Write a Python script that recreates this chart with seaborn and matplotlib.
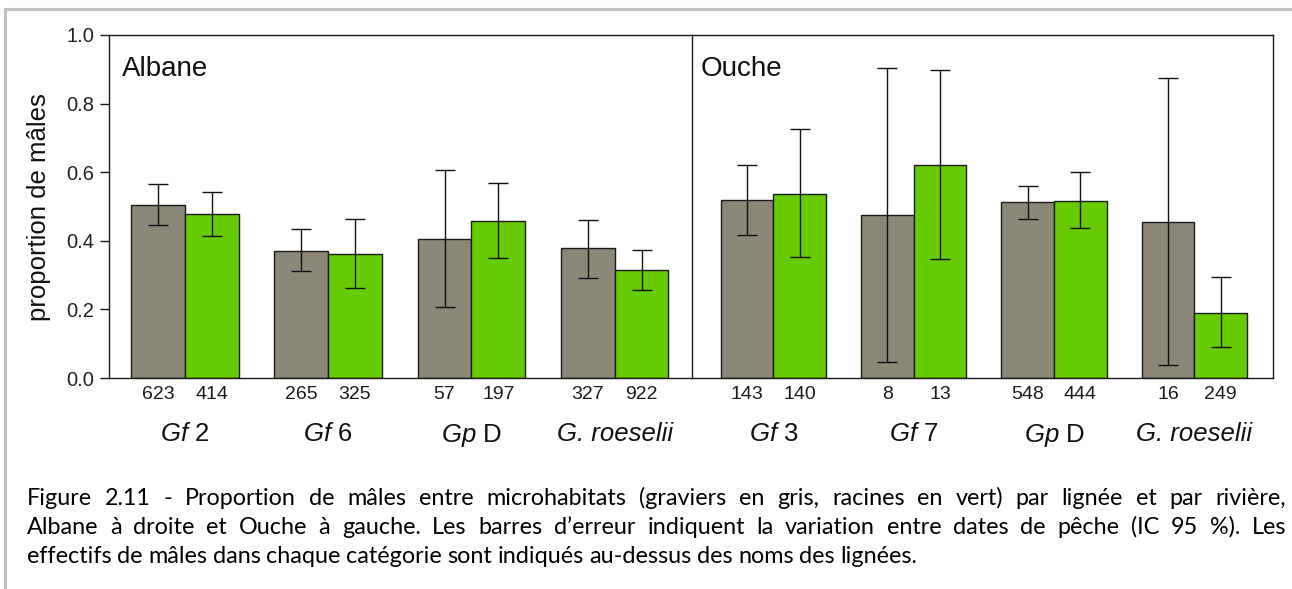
import numpy as np
import pandas as pd
import seaborn as sns
import matplotlib
matplotlib.use("Agg")
import matplotlib.pyplot as plt
from matplotlib.lines import Line2D

# values (proportion of males, 95% CI, counts)
habitats = ["graviers", "racines"]
alb_lineages = ["Gf 2", "Gf 6", "Gp D", "G. roeselii"]
ouc_lineages = ["Gf 3", "Gf 7", "Gp D", "G. roeselii"]

alb_grav = [0.504, 0.371, 0.404, 0.378]
alb_grav_lo = [0.445, 0.311, 0.206, 0.292]
alb_grav_hi = [0.565, 0.434, 0.606, 0.460]
alb_grav_n = [623, 265, 57, 327]

alb_rac = [0.479, 0.362, 0.459, 0.314]
alb_rac_lo = [0.415, 0.262, 0.349, 0.258]
alb_rac_hi = [0.542, 0.463, 0.568, 0.374]
alb_rac_n = [414, 325, 197, 922]

ouc_grav = [0.519, 0.475, 0.512, 0.456]
ouc_grav_lo = [0.418, 0.046, 0.464, 0.037]
ouc_grav_hi = [0.621, 0.905, 0.561, 0.875]
ouc_grav_n = [143, 8, 548, 16]

ouc_rac = [0.535, 0.621, 0.516, 0.190]
ouc_rac_lo = [0.352, 0.348, 0.437, 0.089]
ouc_rac_hi = [0.726, 0.897, 0.602, 0.295]
ouc_rac_n = [140, 13, 444, 249]

tick_labels = {
    "Gf 2": r"$\mathit{Gf}$ 2", "Gf 6": r"$\mathit{Gf}$ 6",
    "Gf 3": r"$\mathit{Gf}$ 3", "Gf 7": r"$\mathit{Gf}$ 7",
    "Gp D": r"$\mathit{Gp}$ D", "G. roeselii": "G. roeselii",
}

caption = [
    "Figure 2.11 - Proportion de mâles entre microhabitats (graviers en gris, racines en vert) par lignée et par rivière,",
    "Albane à droite et Ouche à gauche. Les barres d’erreur indiquent la variation entre dates de pêche (IC 95 %). Les",
    "effectifs de mâles dans chaque catégorie sont indiqués au-dessus des noms des lignées.",
]


def make_df(lineages, grav, glo, ghi, gn, rac, rlo, rhi, rn):
    rows = []
    for i, lin in enumerate(lineages):
        rows.append(dict(lineage=lin, habitat="graviers", prop=grav[i], lo=glo[i], hi=ghi[i], n=gn[i]))
    for i, lin in enumerate(lineages):
        rows.append(dict(lineage=lin, habitat="racines", prop=rac[i], lo=rlo[i], hi=rhi[i], n=rn[i]))
    return pd.DataFrame(rows)


df_alb = make_df(alb_lineages, alb_grav, alb_grav_lo, alb_grav_hi, alb_grav_n,
                 alb_rac, alb_rac_lo, alb_rac_hi, alb_rac_n)
df_ouc = make_df(ouc_lineages, ouc_grav, ouc_grav_lo, ouc_grav_hi, ouc_grav_n,
                 ouc_rac, ouc_rac_lo, ouc_rac_hi, ouc_rac_n)

sns.set_theme(style="white")
plt.rcParams["font.family"] = ["Liberation Sans", "DejaVu Sans"]
plt.rcParams["mathtext.fontset"] = "custom"
plt.rcParams["mathtext.rm"] = "Liberation Sans"
plt.rcParams["mathtext.it"] = "Liberation Sans:italic"

W, H = 1292, 589
fig = plt.figure(figsize=(W / 100, H / 100), dpi=100)
palette = {"graviers": "#8b8878", "racines": "#66cc00"}

ax_top, ax_bot = 35, 378
panels = [
    (df_alb, "Albane", 109, 692, (-0.53, 3.54), 9),
    (df_ouc, "Ouche", 692, 1273, (-0.58, 3.56), 6),
]
axes = []
for df, name, x0, x1, xlim, tx in panels:
    ax = fig.add_axes([x0 / W, 1 - ax_bot / H, (x1 - x0) / W, (ax_bot - ax_top) / H])
    ax.patch.set_visible(False)
    sns.barplot(data=df, x="lineage", y="prop", hue="habitat", hue_order=habitats,
                palette=palette, saturation=1, width=0.75, errorbar=None,
                edgecolor="#1a1a1a", linewidth=1.0, legend=False, ax=ax, zorder=2)
    # error bars and counts drawn at bar centres from the bar containers
    for cont, hab in zip(ax.containers, habitats):
        sub = df[df["habitat"] == hab].reset_index(drop=True)
        for bar, (_, r) in zip(cont, sub.iterrows()):
            xc = bar.get_x() + bar.get_width() / 2
            ax.errorbar(xc, r["prop"], yerr=[[r["prop"] - r["lo"]], [r["hi"] - r["prop"]]],
                        fmt="none", ecolor="#111111", elinewidth=1.0, capsize=7.5,
                        capthick=1.0, zorder=3)
            ax.annotate(str(r["n"]), xy=(xc, 0), xycoords=("data", "axes fraction"),
                        xytext=(0, -6), textcoords="offset points", ha="center",
                        va="top", fontsize=14, color="#1a1a1a")
    ax.set_xlim(*xlim)
    ax.set_ylim(0, 1)
    ax.set_xlabel("")
    ax.set_ylabel("")
    ax.set_xticks(range(len(df["lineage"].unique())))
    ax.set_xticklabels([tick_labels[l] for l in df["lineage"].unique()], fontsize=18.5)
    for lab in ax.get_xticklabels():
        if "roeselii" in lab.get_text():
            lab.set_fontstyle("italic")
    ax.tick_params(axis="x", length=0, pad=32, colors="#111111")
    for s in ax.spines.values():
        s.set_color("#1a1a1a")
        s.set_linewidth(1.0)
    ax.annotate(name, xy=(0, 1), xycoords="axes fraction", xytext=(tx, -15),
                textcoords="offset points", ha="left", va="top", fontsize=20, color="#111111")
    axes.append(ax)

ax_a, ax_o = axes
ax_a.set_yticks(np.arange(0, 1.01, 0.2))
ax_a.set_yticklabels([f"{v:.1f}" for v in np.arange(0, 1.01, 0.2)], fontsize=14.5, color="#222222")
ax_a.tick_params(axis="y", direction="out", length=6.5, width=1.0, pad=4, left=True, color="#1a1a1a")
ax_o.set_yticks([])
ax_o.spines["left"].set_visible(False)

fig.text(39 / W, 1 - 207 / H, "proportion de mâles", rotation=90, ha="center", va="center",
         fontsize=18.5, color="#111111")

# page frame (light gray border of the document screenshot)
fig.add_artist(Line2D([5 / W, 5 / W], [0, 1 - 9 / H], transform=fig.transFigure,
                      color="#c0c0c0", lw=2.2))
fig.add_artist(Line2D([5 / W, 1], [1 - 9 / H, 1 - 9 / H], transform=fig.transFigure,
                      color="#c0c0c0", lw=2.2))

# justified caption
renderer = fig.canvas.get_renderer()
cap_x0, cap_x1 = 27, 1286
baselines = [505, 534, 563]
for k, (line, yb) in enumerate(zip(caption, baselines)):
    words = line.split(" ")
    txts = [fig.text(0, 1 - yb / H, w, fontsize=16.8, family=["Lato", "DejaVu Sans"],
                     color="#000000", va="baseline", ha="left") for w in words]
    widths = [t.get_window_extent(renderer).width for t in txts]
    if k < len(caption) - 1:
        gap = (cap_x1 - cap_x0 - sum(widths)) / (len(words) - 1)
    else:
        gap = 5.5
    x = cap_x0
    for t, w in zip(txts, widths):
        t.set_x(x / W)
        x += w + gap

fig.savefig("out.png", dpi=100)
